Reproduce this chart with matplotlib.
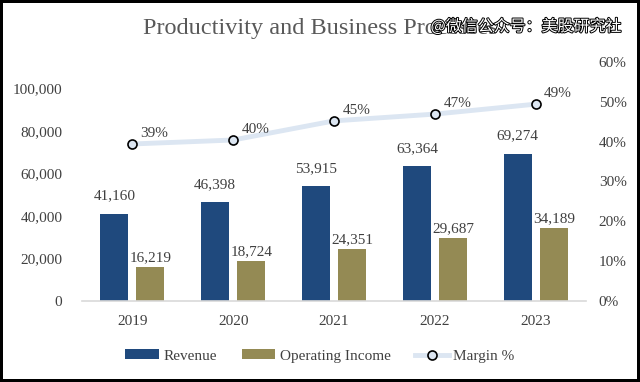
import matplotlib
matplotlib.use("Agg")
import matplotlib.pyplot as plt
import matplotlib.patheffects as pe
from matplotlib.lines import Line2D
from matplotlib.patches import Patch
import numpy as np

years = ["2019", "2020", "2021", "2022", "2023"]
revenue = [41160, 46398, 53915, 63364, 69274]
op_income = [16219, 18724, 24351, 29687, 34189]
margin = [0.394, 0.404, 0.452, 0.469, 0.494]
margin_labels = ["39%", "40%", "45%", "47%", "49%"]
left_ticks = [0, 20000, 40000, 60000, 80000, 100000]
right_ticks = [0, 0.1, 0.2, 0.3, 0.4, 0.5, 0.6]

c_rev = "#1F497D"
c_oi = "#948A54"
c_line = "#DCE6F2"
c_text = "#404040"

plt.rcParams['font.family'] = ['Liberation Serif', 'DejaVu Serif']

fig = plt.figure(figsize=(6.4, 3.82), dpi=100)
fig.patch.set_facecolor("white")
fig.patch.set_edgecolor("black")
fig.patch.set_linewidth(4)

ax = fig.add_axes([0.128, 0.212, 0.788, 0.626])
x = np.arange(len(years))
w = 0.278
off = 0.179
ax.bar(x - off, revenue, w, color=c_rev, zorder=2)
ax.bar(x + off, op_income, w, color=c_oi, zorder=2)
ax.set_xlim(-0.5, len(years) - 0.5)
ax.set_ylim(0, 112470)
ax.set_yticks(left_ticks)
ax.set_yticklabels([f"{v:,}" for v in left_ticks])
ax.set_xticks(x)
ax.set_xticklabels(years)
for s in ["top", "left", "right"]:
    ax.spines[s].set_visible(False)
ax.spines["bottom"].set_color("#D9D9D9")
ax.spines["bottom"].set_linewidth(1.2)
ax.tick_params(axis="both", length=0, labelsize=11, labelcolor=c_text)
ax.tick_params(axis="y", pad=14)
ax.tick_params(axis="x", pad=10)

for xi, v in zip(x, revenue):
    ax.annotate(f"{v:,}", (xi - off, v), xytext=(0, 8), textcoords="offset points",
                ha="center", va="bottom", fontsize=11, color=c_text)
for xi, v in zip(x, op_income):
    ax.annotate(f"{v:,}", (xi + off, v), xytext=(0, 2), textcoords="offset points",
                ha="center", va="bottom", fontsize=11, color=c_text)

ax2 = ax.twinx()
ax2.set_ylim(0, 0.6)
ax2.set_yticks(right_ticks)
ax2.set_yticklabels([f"{int(round(t*100))}%" for t in right_ticks])
for s in ["top", "left", "right", "bottom"]:
    ax2.spines[s].set_visible(False)
ax2.tick_params(axis="y", length=0, labelsize=11, labelcolor=c_text, pad=9)
ax2.plot(x, margin, color=c_line, lw=3.5, marker="o", markersize=6.5,
         markerfacecolor=c_line, markeredgecolor="black", markeredgewidth=1.2, zorder=3)
for xi, v, lab in zip(x, margin, margin_labels):
    ax2.annotate(lab, (xi, v), xytext=(6, 3), textcoords="offset points",
                 ha="left", va="bottom", fontsize=11, color=c_text)

fig.text(0.5, 0.925, "Productivity and Business Processes", ha="center", va="center",
         fontsize=17.5, color="#595959")
fig.text(0.822, 0.93, "@微信公众号：美股研究社", ha="center", va="center",
         fontsize=11.5, color="white", family=['Noto Sans CJK SC', 'DejaVu Sans'],
         path_effects=[pe.withStroke(linewidth=1.4, foreground="black")])

handles = [Patch(facecolor=c_rev, label="Revenue"),
           Patch(facecolor=c_oi, label="Operating Income"),
           Line2D([0], [0], color=c_line, lw=3.5, marker="o", markersize=6.5,
                  markerfacecolor=c_line, markeredgecolor="black", markeredgewidth=1.2,
                  label="Margin %")]
leg = fig.legend(handles=handles, loc="center", bbox_to_anchor=(0.5, 0.068), ncol=3,
                 frameon=False, fontsize=11, handlelength=2.2, handleheight=0.6,
                 handletextpad=0.3, columnspacing=1.6)
for t in leg.get_texts():
    t.set_color(c_text)

fig.savefig("out.png", dpi=100)
